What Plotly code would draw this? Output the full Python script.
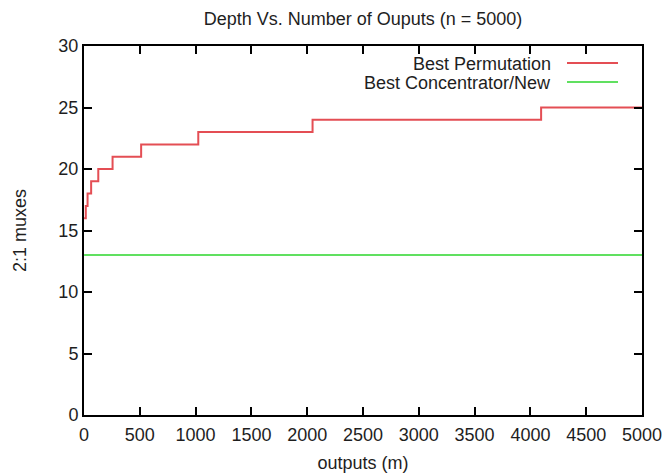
import plotly.graph_objects as go

# ---- data ----
outputs_perm = [1, 16, 32, 64, 128, 256, 512, 1024, 2048, 4096, 5000]
depth_perm = [16, 17, 18, 19, 20, 21, 22, 23, 24, 25, 25]
outputs_conc = [1, 5000]
depth_conc = [13, 13]
series_names = ["Best Permutation", "Best Concentrator/New"]
x_ticks = [0, 500, 1000, 1500, 2000, 2500, 3000, 3500, 4000, 4500, 5000]
y_ticks = [0, 5, 10, 15, 20, 25, 30]

# ---- style ----
RED = "rgb(228,78,84)"
GREEN = "rgb(96,224,96)"
TXT = "#1e1e1e"
FONT = "Liberation Sans, Arial, Helvetica, sans-serif"
OFF = 8  # page body margin
W, H = 670 - OFF, 476 - OFF
L, T = 84 - OFF, 46 - OFF
R = W - (642 - OFF)
B = H - (415 - OFF)
pw, ph = W - L - R, H - T - B

fig = go.Figure()
fig.add_trace(go.Scatter(x=outputs_perm, y=depth_perm, mode="lines",
                         line=dict(color=RED, width=2, shape="hv"),
                         name=series_names[0], showlegend=False))
fig.add_trace(go.Scatter(x=outputs_conc, y=depth_conc, mode="lines",
                         line=dict(color=GREEN, width=2),
                         name=series_names[1], showlegend=False))

axis_common = dict(showgrid=False, zeroline=False, showline=True, linecolor="black",
                   linewidth=2, mirror="ticks", ticks="inside", ticklen=8, tickwidth=2,
                   tickcolor="black", automargin=False,
                   tickfont=dict(family=FONT, size=18, color=TXT))

fig.update_xaxes(range=[0, 5000], tickvals=x_ticks, ticktext=[str(v) for v in x_ticks],
                 ticklabelstandoff=2,
                 title=dict(text="outputs (m)", font=dict(family=FONT, size=18, color=TXT),
                            standoff=13),
                 **axis_common)
fig.update_yaxes(range=[0, 30], tickvals=y_ticks, ticktext=[str(v) for v in y_ticks],
                 title=dict(text="2:1 muxes", font=dict(family=FONT, size=18, color=TXT),
                            standoff=27),
                 **axis_common)

# gnuplot-style legend (text right-aligned, key sample on the right)
def px_x(p):
    return (p - OFF - L) / pw

def px_y(p):
    return (H - B - (p - OFF)) / ph

legend_rows = [(series_names[0], RED, 64), (series_names[1], GREEN, 83)]
for name, col, ypix in legend_rows:
    fig.add_annotation(x=px_x(553), y=px_y(ypix), xref="paper", yref="paper",
                       text=name, showarrow=False, xanchor="right", yanchor="middle",
                       font=dict(family=FONT, size=18, color=TXT))
    fig.add_shape(type="line", xref="paper", yref="paper",
                  x0=px_x(567), x1=px_x(618), y0=px_y(ypix - 1), y1=px_y(ypix - 1),
                  line=dict(color=col, width=2))

fig.update_layout(
    width=W, height=H,
    margin=dict(l=L, r=R, t=T, b=B),
    paper_bgcolor="white", plot_bgcolor="white",
    title=dict(text="Depth Vs. Number of Ouputs (n = 5000)", x=(L + pw / 2) / W,
               xanchor="center", y=1 - (18.5 - OFF) / H, yanchor="middle", yref="container",
               font=dict(family=FONT, size=18, color=TXT)),
)

fig.write_html("out.html")
